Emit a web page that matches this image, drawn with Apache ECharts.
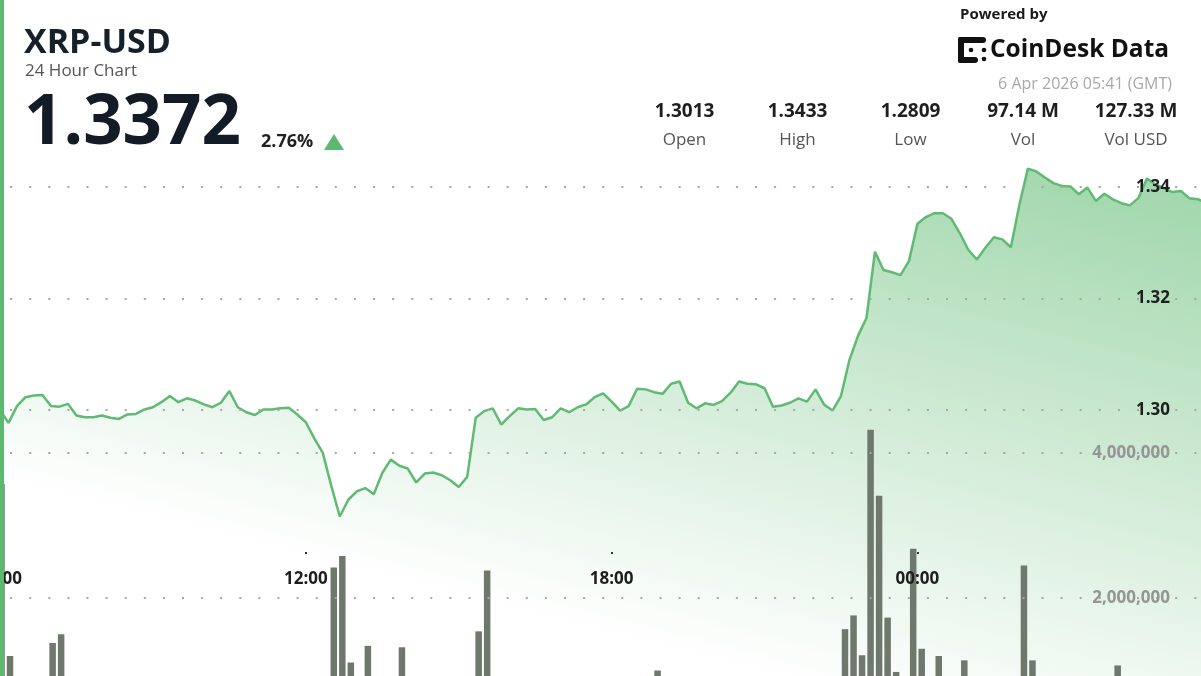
<!DOCTYPE html>
<html><head><meta charset="utf-8">
<script src="https://cdn.jsdelivr.net/npm/echarts@6/dist/echarts.min.js"></script>
<style>html,body{margin:0;padding:0;background:#fff}#c{width:1201px;height:676px}</style>
</head><body><div id="c"></div>
<script>
// ---------- data ----------
const symbol = 'XRP-USD';
const subtitle = '24 Hour Chart';
const lastPrice = '1.3372';
const changePct = '2.76%';
const statValues = ['1.3013', '1.3433', '1.2809', '97.14 M', '127.33 M'];
const statLabels = ['Open', 'High', 'Low', 'Vol', 'Vol USD'];
const poweredBy = 'Powered by';
const brand = 'CoinDesk Data';
const timestamp = '6 Apr 2026 05:41 (GMT)';
const xTickLabels = ['06:00', '12:00', '18:00', '00:00'];
const stepMinutes = 10; // one point every 10 minutes, starting 06:00
const priceTicks = [1.30, 1.32, 1.34];
const priceValues = [
  1.3000,1.2977,1.3007,1.3023,1.3026,1.3027,1.3007,1.3006,1.3011,1.2990,
  1.2987,1.2987,1.2990,1.2986,1.2984,1.2992,1.2993,1.3001,1.3005,1.3014,
  1.3025,1.3014,1.3021,1.3017,1.3010,1.3005,1.3013,1.3034,1.3005,1.2996,
  1.2991,1.3001,1.3001,1.3003,1.3004,1.2992,1.2978,1.2949,1.2923,1.2864,
  1.2809,1.2839,1.2854,1.2860,1.2849,1.2887,1.2911,1.2900,1.2895,1.2870,
  1.2886,1.2888,1.2883,1.2874,1.2862,1.2880,1.2986,1.2998,1.3003,1.2974,
  1.2989,1.3003,1.3001,1.3002,1.2982,1.2987,1.3003,1.2996,1.3005,1.3010,
  1.3023,1.3030,1.3015,1.2999,1.3007,1.3038,1.3037,1.3032,1.3029,1.3047,
  1.3051,1.3013,1.3003,1.3012,1.3009,1.3016,1.3031,1.3051,1.3047,1.3046,
  1.3039,1.3006,1.3008,1.3013,1.3021,1.3015,1.3037,1.3010,1.2999,1.3025,
  1.3090,1.3133,1.3165,1.3284,1.3251,1.3247,1.3242,1.3267,1.3334,1.3346,
  1.3353,1.3353,1.3343,1.3317,1.3287,1.3270,1.3291,1.3310,1.3306,1.3292,
  1.3368,1.3433,1.3428,1.3417,1.3407,1.3402,1.3401,1.3387,1.3399,1.3375,
  1.3388,1.3378,1.3371,1.3367,1.3380,1.3415,1.3405,1.3398,1.3391,1.3393,
  1.3380,1.3378,1.3372
];
const volumeTicks = [2000000, 4000000];
const volumeMillions = [
  3.57,1.20,0.45,0.38,0.52,0.61,1.38,1.50,0.55,0.42,
  0.35,0.40,0.48,0.33,0.30,0.44,0.39,0.51,0.47,0.58,
  0.72,0.46,0.41,0.37,0.35,0.42,0.49,0.66,0.53,0.40,
  0.36,0.34,0.31,0.38,0.45,0.55,0.62,0.78,0.85,2.42,
  2.58,1.11,0.82,1.34,0.74,0.69,0.80,1.32,0.57,0.63,
  0.48,0.44,0.50,0.56,0.71,0.76,1.54,2.38,0.66,0.59,
  0.47,0.43,0.39,0.36,0.52,0.45,0.41,0.38,0.35,0.40,
  0.49,0.58,0.46,0.42,0.37,0.61,0.54,1.00,0.48,0.57,
  0.63,0.50,0.44,0.39,0.36,0.41,0.47,0.55,0.49,0.43,
  0.52,0.60,0.45,0.40,0.46,0.42,0.58,0.51,0.64,1.57,
  1.76,1.21,4.32,3.41,1.73,0.98,0.84,2.68,1.30,0.79,
  1.20,0.72,0.65,1.14,0.77,0.70,0.62,0.58,0.55,0.81,
  2.45,1.14,0.74,0.66,0.53,0.49,0.45,0.57,0.48,0.52,
  0.44,1.07,0.50,0.46,0.41,0.60,0.55,0.47,0.43,0.39,
  0.45,0.42,0.40
];

// ---------- chart ----------
const FONT = '"Open Sans", sans-serif';
const GREEN = '#5fba72';
const lineData = priceValues.map((v, i) => [i * stepMinutes, v]);
const barData = volumeMillions.map((v, i) => [i, Math.round(v * 1e6)]);
const X_MAX = 1413.8;
const tickMinutes = xTickLabels.map((_, i) => i * 360);

const statCenters = [684.5, 797.5, 910.5, 1023, 1136];
const graphics = [
  { type: 'rect', z: 100, shape: { x: 0, y: 0, width: 4, height: 676 }, style: { fill: '#5cb96f' } },
  { type: 'text', x: 24, y: 43, style: { text: symbol, font: `bold 34px ${FONT}`, fill: '#16202a', verticalAlign: 'middle' } },
  { type: 'text', x: 25, y: 71, style: { text: subtitle, font: `17px ${FONT}`, fill: '#555', verticalAlign: 'middle' } },
  { type: 'text', x: 24, y: 124, style: { text: lastPrice, font: `bold 69px ${FONT}`, fill: '#131c26', verticalAlign: 'middle' } },
  { type: 'text', x: 261, y: 142, style: { text: changePct, font: `bold 18px ${FONT}`, fill: '#222', verticalAlign: 'middle' } },
  { type: 'polygon', shape: { points: [[324, 150], [344, 150], [334, 134]] }, style: { fill: '#5cb96f' } },
  { type: 'text', x: 960, y: 15, style: { text: poweredBy, font: `bold 15px ${FONT}`, fill: '#1a1a1a', verticalAlign: 'middle' } },
  // logo mark
  { type: 'rect', shape: { x: 958, y: 37, width: 6, height: 26, r: 2 }, style: { fill: '#111' } },
  { type: 'rect', shape: { x: 958, y: 37, width: 28, height: 6, r: 3 }, style: { fill: '#111' } },
  { type: 'rect', shape: { x: 958, y: 57, width: 20, height: 6, r: 3 }, style: { fill: '#111' } },
  { type: 'circle', shape: { cx: 971, cy: 50, r: 2.3 }, style: { fill: '#111' } },
  { type: 'circle', shape: { cx: 984, cy: 50, r: 2.3 }, style: { fill: '#111' } },
  { type: 'circle', shape: { cx: 984, cy: 59, r: 2.3 }, style: { fill: '#111' } },
  { type: 'text', x: 990, y: 50, style: { text: brand, font: `bold 24.5px ${FONT}`, fill: '#111', verticalAlign: 'middle' } },
  { type: 'text', x: 1172, y: 84, style: { text: timestamp, font: `16px ${FONT}`, fill: '#a8a8a8', align: 'right', verticalAlign: 'middle' } }
];
statValues.forEach((t, i) => {
  graphics.push({ type: 'text', x: statCenters[i], y: 112, style: { text: t, font: `bold 19px ${FONT}`, fill: '#1e1e1e', align: 'center', verticalAlign: 'middle' } });
  graphics.push({ type: 'text', x: statCenters[i], y: 140, style: { text: statLabels[i], font: `17px ${FONT}`, fill: '#555', align: 'center', verticalAlign: 'middle' } });
});

const dotted = { type: [2, 17.1], dashOffset: 9, color: '#a6a6a6', width: 2 };
const OB = { outerBoundsMode: 'none', containLabel: false };

const option = {
  backgroundColor: '#fff',
  animation: false,
  grid: [
    Object.assign({ left: 0, right: 0, top: 75.5, bottom: 0 }, OB),   // price series (1.36 .. canvas bottom)
    Object.assign({ left: 0, right: 0, top: 187, bottom: 266 }, OB),  // price gridlines (1.34 .. 1.30)
    Object.assign({ left: 0, right: 0, top: 453, bottom: 0 }, OB),    // volume bars (4M .. canvas bottom)
    Object.assign({ left: 0, right: 0, top: 453, bottom: 78 }, OB),   // volume gridlines (4M .. 2M)
    Object.assign({ left: 0, right: 0, top: 546, bottom: 124 }, OB)   // time axis
  ],
  xAxis: [
    { gridIndex: 0, type: 'value', min: 0, max: X_MAX, show: false },
    { gridIndex: 1, type: 'value', min: 0, max: 1, show: false },
    { gridIndex: 2, type: 'value', min: -0.176, max: 140.78, show: false },
    { gridIndex: 3, type: 'value', min: 0, max: 1, show: false },
    {
      gridIndex: 4, type: 'value', min: 0, max: X_MAX, interval: 360, z: 6,
      axisLine: { show: false }, splitLine: { show: false },
      axisTick: { show: true, length: 2, customValues: tickMinutes, lineStyle: { color: '#333', width: 2 } },
      axisLabel: {
        show: true, margin: 19, showMinLabel: true, showMaxLabel: true,
        alignMinLabel: 'center', alignMaxLabel: 'center',
        customValues: tickMinutes,
        formatter: v => {
          const idx = Math.round(v / 360);
          return (Math.abs(v - idx * 360) < 1e-6 && idx < xTickLabels.length) ? xTickLabels[idx] : '';
        },
        color: '#1e1e1e', fontWeight: 'bold', fontSize: 17, fontFamily: FONT
      }
    }
  ],
  yAxis: [
    { gridIndex: 0, type: 'value', min: 1.30 - (676 - 410) / 5575, max: 1.36, show: false },
    {
      gridIndex: 1, type: 'value', min: priceTicks[0], max: priceTicks[priceTicks.length - 1], interval: 0.02,
      position: 'right', z: 5,
      axisLine: { show: false }, axisTick: { show: false },
      splitLine: { show: true, lineStyle: dotted },
      axisLabel: { inside: true, margin: 31, formatter: v => v.toFixed(2), color: '#1e1e1e', fontWeight: 'bold', fontSize: 17, fontFamily: FONT }
    },
    { gridIndex: 2, type: 'value', min: 4000000 - (676 - 453) / 72.5 * 1e6, max: 4000000, show: false },
    {
      gridIndex: 3, type: 'value', min: volumeTicks[0], max: volumeTicks[volumeTicks.length - 1], interval: 2000000,
      position: 'right', z: 5,
      axisLine: { show: false }, axisTick: { show: false },
      splitLine: { show: true, lineStyle: dotted },
      axisLabel: { inside: true, margin: 31, formatter: v => v.toLocaleString('en-US'), color: '#959595', fontWeight: 'bold', fontSize: 17, fontFamily: FONT }
    },
    { gridIndex: 4, type: 'value', min: 0, max: 1, show: false }
  ],
  series: [
    {
      type: 'line', xAxisIndex: 0, yAxisIndex: 0, data: lineData, symbol: 'none', z: 2,
      lineStyle: { color: GREEN, width: 2.5 },
      areaStyle: {
        color: new echarts.graphic.LinearGradient(1019, 740, 1165.6, 161.4, [
          { offset: 0, color: 'rgba(92,185,111,0)' },
          { offset: 1, color: 'rgba(92,185,111,0.85)' }
        ], true)
      }
    },
    {
      type: 'bar', xAxisIndex: 2, yAxisIndex: 2, data: barData, barWidth: 6.5, clip: false, z: 3,
      itemStyle: { color: '#6e786c' }
    }
  ],
  graphic: graphics
};
const chart = echarts.init(document.getElementById('c'));
chart.setOption(option);
</script>
</body></html>
